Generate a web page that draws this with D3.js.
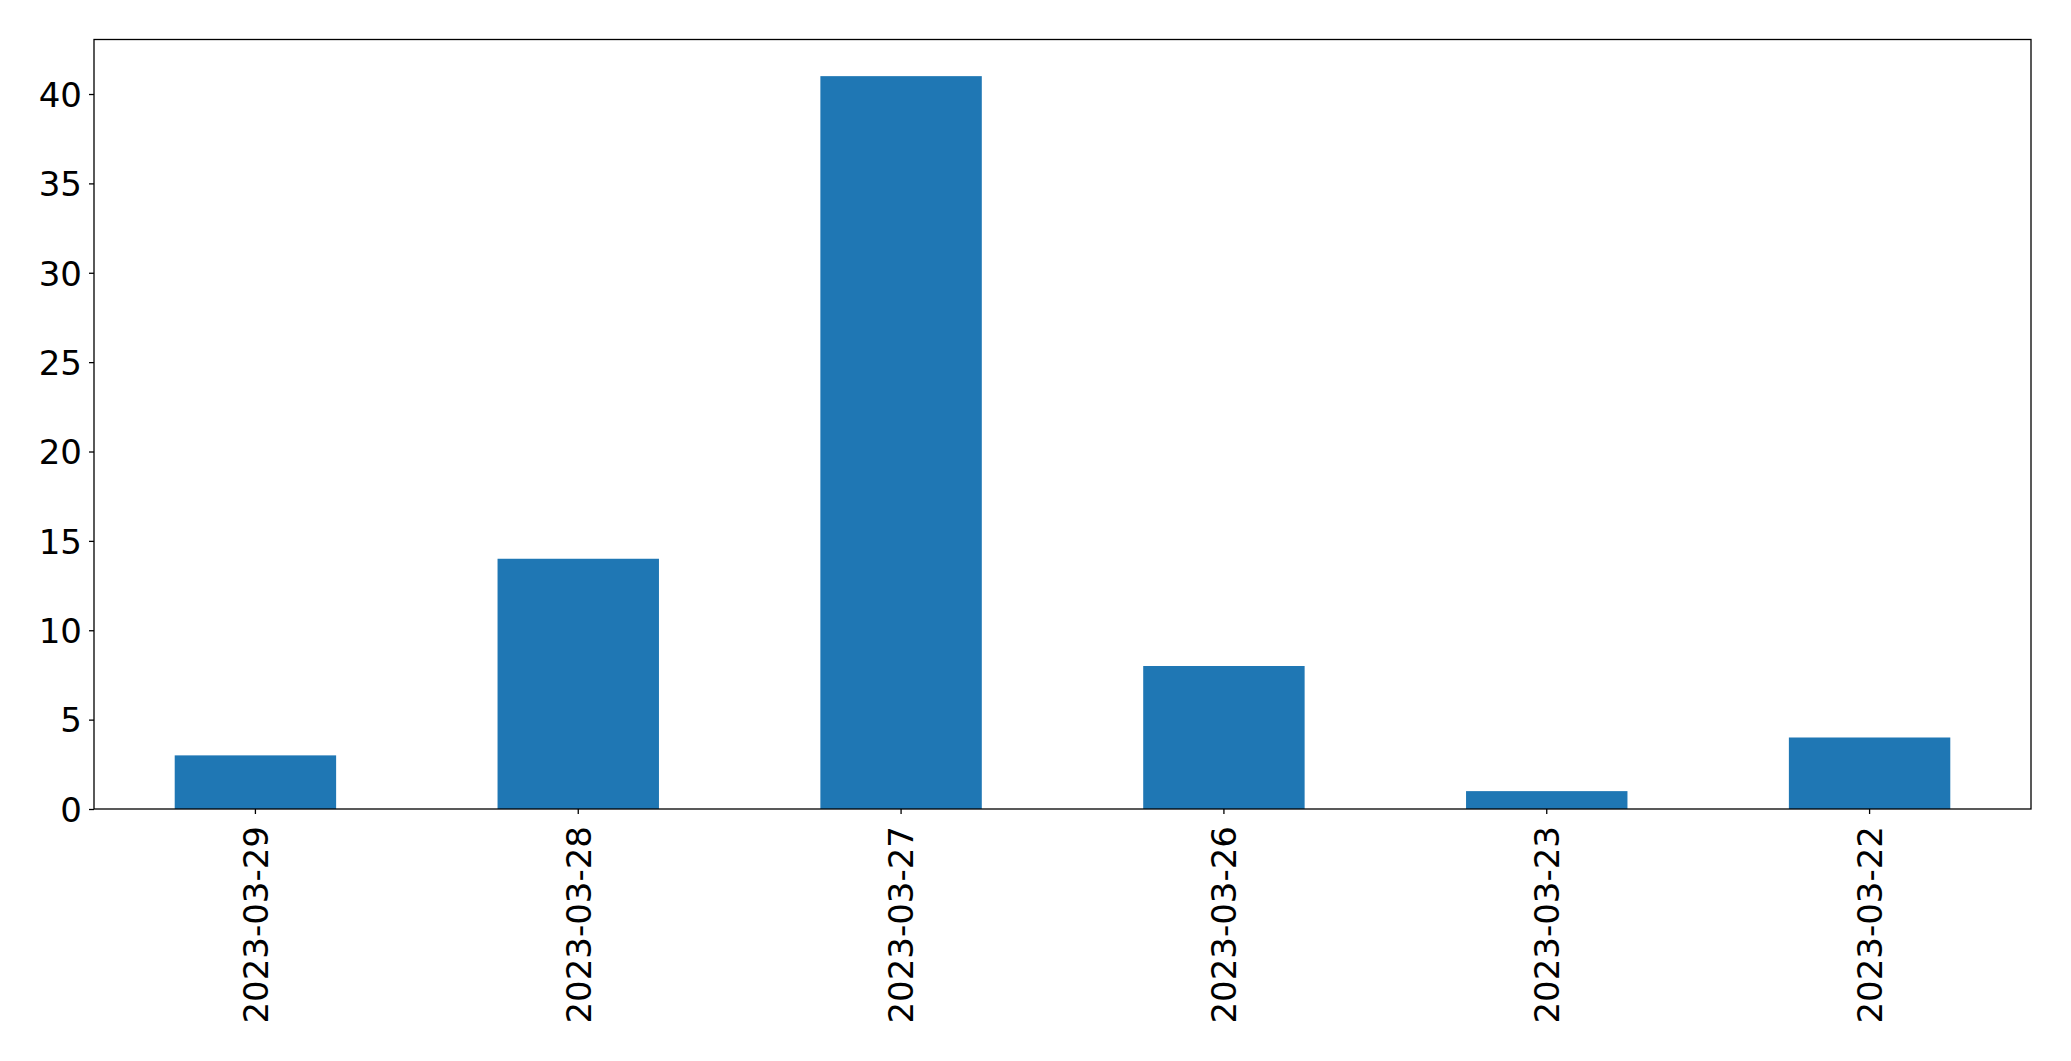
<!DOCTYPE html>
<html>
<head>
<meta charset="utf-8">
<script src="https://cdn.jsdelivr.net/npm/d3@7"></script>
<style>
html, body { margin: 0; padding: 0; background: #fff; }
svg { display: block; }
</style>
</head>
<body>
<script>
const categories = ["2023-03-29", "2023-03-28", "2023-03-27", "2023-03-26", "2023-03-23", "2023-03-22"];
const values = [3, 14, 41, 8, 1, 4];
const yTicks = [0, 5, 10, 15, 20, 25, 30, 35, 40];

const W = 2071, H = 1061;
const m = { left: 94, right: 2071 - 2031, top: 39.5, bottom: 1061 - 809 };
const iw = W - m.left - m.right, ih = H - m.top - m.bottom;
const font = "DejaVu Sans, sans-serif";
const fs = 34;

const svg = d3.select("body").append("svg").attr("width", W).attr("height", H);
const g = svg.append("g").attr("transform", `translate(${m.left},${m.top})`);

const x = d3.scaleBand().domain(categories).range([0, iw]).paddingInner(0.5).paddingOuter(0.25);
const y = d3.scaleLinear().domain([0, d3.max(values) * 1.05]).range([ih, 0]);

g.selectAll("rect.bar").data(values).join("rect")
  .attr("class", "bar")
  .attr("x", (d, i) => x(categories[i]))
  .attr("width", x.bandwidth())
  .attr("y", d => y(d))
  .attr("height", d => ih - y(d))
  .attr("fill", "#1f77b4");

const yAxis = g.append("g").call(d3.axisLeft(y).tickValues(yTicks).tickSize(5).tickPadding(7).tickFormat(d3.format("d")));
yAxis.select(".domain").remove();
yAxis.selectAll("line").attr("stroke", "#000").attr("stroke-width", 1.3);
yAxis.selectAll("text").attr("font-family", font).attr("font-size", fs).attr("fill", "#000").attr("dy", "0.36em");

const xAxis = g.append("g").attr("transform", `translate(0,${ih})`)
  .call(d3.axisBottom(x).tickSize(5).tickPadding(12));
xAxis.select(".domain").remove();
xAxis.selectAll("line").attr("stroke", "#000").attr("stroke-width", 1.3);
xAxis.selectAll("text")
  .attr("font-family", font).attr("font-size", fs).attr("fill", "#000")
  .attr("text-anchor", "end")
  .attr("transform", "rotate(-90)")
  .attr("x", -17).attr("y", 0).attr("dy", "0.36em");

g.append("rect").attr("x", 0).attr("y", 0).attr("width", iw).attr("height", ih)
  .attr("fill", "none").attr("stroke", "#000").attr("stroke-width", 1.3);
</script>
</body>
</html>
